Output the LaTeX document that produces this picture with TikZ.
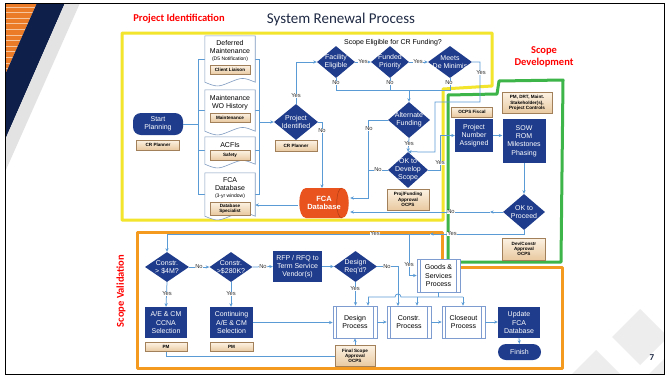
\documentclass[tikz,border=0pt]{standalone}
\usepackage{fontspec}
\setmainfont{Liberation Sans}
\newfontfamily\slidefont{Carlito}
\usetikzlibrary{shapes.geometric,arrows.meta,shadows}

\definecolor{navy}{HTML}{1F3C8C}
\definecolor{flow}{HTML}{5B9BD5}
\definecolor{tanA}{HTML}{FCF2E3}
\definecolor{tanB}{HTML}{E9C9A0}
\definecolor{tanE}{HTML}{A2805A}
\definecolor{tanD}{HTML}{8A6A48}
\definecolor{ylw}{HTML}{F2E52B}
\definecolor{grn}{HTML}{3DB549}
\definecolor{org}{HTML}{F39A1F}
\definecolor{fcared}{HTML}{E9531D}
\definecolor{procE}{HTML}{7E9CCF}
\definecolor{docE}{HTML}{7F9AC0}
\definecolor{deco}{HTML}{0E1F4A}
\definecolor{decoO}{HTML}{EB7B26}
\definecolor{decoG}{HTML}{EDEDED}
\definecolor{titlec}{HTML}{1F2A44}

% document symbol: straight top and sides, wavy bottom
\newcommand\docoutline[1]{%
  \draw[docline] (#1.south west) -- (#1.north west) -- (#1.north east) -- (#1.south east)
    .. controls +(-12,-5) and +(12,-5) .. (#1.south)
    .. controls +(-12,5) and +(12,5) .. (#1.south west) -- cycle;}

\begin{document}
\begin{tikzpicture}[x=1pt,y=-1pt,
  every node/.style={align=center, inner sep=1pt},
  txt/.style={font=\fontsize{7}{8.2}\selectfont},
  navybox/.style={rectangle, fill=navy, text=white, inner sep=0.5pt, font=\fontsize{7}{8.2}\selectfont},
  term/.style={navybox, rounded corners=8pt},
  dia/.style={diamond, fill=navy, inner sep=0pt},
  dtext/.style={text=white, font=\fontsize{7}{8.2}\selectfont, inner sep=0pt},
  tag/.style={rectangle, draw=tanE, line width=0.4pt, top color=tanA, bottom color=tanB,
    font=\bfseries\fontsize{4.6}{5.3}\selectfont, inner sep=0.3pt,
    drop shadow={shadow xshift=0.9pt, shadow yshift=-0.9pt, fill=tanD, opacity=1}},
  proc/.style={rectangle, draw=procE, fill=white, line width=0.7pt, font=\fontsize{7}{8.2}\selectfont,
    path picture={\draw[procE, line width=0.6pt]
      ([xshift=3.5pt]path picture bounding box.north west) -- ([xshift=3.5pt]path picture bounding box.south west)
      ([xshift=-3.5pt]path picture bounding box.north east) -- ([xshift=-3.5pt]path picture bounding box.south east);}},
  docbox/.style={rectangle, minimum width=50, inner sep=0pt},
  docline/.style={draw=docE, fill=white, line width=0.6pt},
  doctext/.style={font=\fontsize{7}{8.4}\selectfont, inner sep=0pt},
  wire/.style={draw=flow, line width=0.75pt},
  arr/.style={wire, -{Stealth[length=3.6pt, width=3.2pt]}},
  lab/.style={fill=white, inner sep=0.4pt, font=\fontsize{5.8}{6}\selectfont, text=black!80},
  zone/.style={line width=3pt, line join=round},
  head/.style={text=red, font=\slidefont\bfseries\fontsize{10.5}{12.5}\selectfont}
]
\useasboundingbox (0,0) rectangle (668,378);
\fill[white] (0,0) rectangle (668,378);

% ---- slide decoration, top left ----
\begin{scope}
  \clip (5,3) -- (37,3) -- (5,75) -- cycle;
  \fill[decoO] (5,3) rectangle (40,80);
  \foreach \yy in {7,12.6,...,76} \draw[white!55!decoO, line width=0.7pt] (5,\yy) -- (40,\yy);
\end{scope}
\fill[deco] (37,3) -- (65,3) -- (5,140) -- (5,75) -- cycle;
\fill[gray!22] (65,3) -- (80,3) -- (5,172) -- (5,140) -- cycle;

% ---- slide decoration, bottom right ----
\begin{scope}
  \clip (5,3) rectangle (664,374);
  \fill[decoG] (640,309) -- (668,337) -- (640,365) -- (612,337) -- cycle;
  \fill[decoG] (596,350) -- (622,376) -- (596,402) -- (570,376) -- cycle;
  \fill[decoG] (668,355) -- (690,377) -- (668,399) -- (646,377) -- cycle;
\end{scope}
\node[font=\slidefont\bfseries\fontsize{9}{10}\selectfont, text=titlec] (pg) at (652,358) {7};
\draw[black, line width=1pt] (5,3) rectangle (664,374);

% ---- headings ----
\node[font=\slidefont\fontsize{15}{17}\selectfont, text=titlec] (title) at (341,19) {System Renewal Process};
\node[head] (hpi) at (179,19) {Project Identification};
\node[head] (hsd) at (544,57) {Scope\\Development};
\node[head, rotate=90] (hsv) at (121,291) {Scope Validation};

% ---- zone outlines ----
\draw[zone, ylw] (122,33) -- (492,33) -- (492,86) -- (443,89) -- (443,220) -- (122,220) -- cycle;
\draw[zone, grn] (448,95) -- (497,94) -- (499,81) -- (563,80) -- (561,262) -- (448,262) -- cycle;
\draw[zone, org] (137,232) -- (442,232) -- (442,267) -- (562,267) -- (562,368) -- (137,368) -- cycle;

% ---- nodes: project identification ----
\node[term, minimum width=50, minimum height=22] (start) at (158,124) {Start\\Planning};
\node[tag, minimum width=43, minimum height=10] (crp1) at (158,145) {CR Planner};

\node[docbox, minimum height=46] (d1) at (230,59) {};
\node[docbox, minimum height=41] (d2) at (230,110.5) {};
\node[docbox, minimum height=27] (d3) at (230,150.5) {};
\node[docbox, minimum height=43] (d4) at (230,194.5) {};

\coordinate (busL) at (198,0);
\coordinate (busR) at (259,0);
\draw[wire] (busL |- d1.west) -- (busL |- d4.west);
\draw[wire] (busR |- d1.east) -- (busR |- d4.east);
\foreach \d in {d1,d2,d3,d4} {
  \draw[wire] (busL |- \d.west) -- (\d.west);
  \draw[wire] (\d.east) -- (busR |- \d.east);
}
\draw[wire] (start.east) -- (busL |- start.east);

\docoutline{d1}
\docoutline{d2}
\docoutline{d3}
\docoutline{d4}
\node[doctext] (d1t) at (230,51) {Deferred\\Maintenance\\[-1.5pt]{\fontsize{5}{6}\selectfont(D5 Notification)}};
\node[tag, minimum width=40, minimum height=9] (t1) at (230,70) {Client Liaison};
\node[doctext] (d2t) at (230,102.5) {Maintenance\\WO History};
\node[tag, minimum width=40, minimum height=9] (t2) at (230,117.5) {Maintenance};
\node[doctext] (d3t) at (230,145) {ACFIs};
\node[tag, minimum width=40, minimum height=10] (t3) at (230,155.5) {Safety};
\node[doctext] (d4t) at (230,188) {FCA\\Database\\[-1.5pt]{\fontsize{5}{6}\selectfont(3-yr window)}};
\node[tag, minimum width=40, minimum height=13] (t4) at (230,208.5) {Database\\Specialist};

\node[dia, minimum width=44, minimum height=36, label={[dtext]center:Project\\Identified}] (pid) at (296,122) {};
\node[tag, minimum width=42, minimum height=11] (crp2) at (296,146) {CR Planner};

\node[txt] (elig) at (393,43) {Scope Eligible for CR Funding?};
\node[dia, minimum width=38, minimum height=32, label={[dtext]center:Facility\\Eligible}] (fe) at (336,62) {};
\node[dia, minimum width=38, minimum height=32, label={[dtext]center:Funded\\Priority}] (fp) at (390,62) {};
\node[dia, minimum width=44, minimum height=32, label={[dtext]center:Meets\\De Minimis}] (mdm) at (450,62) {};
\node[dia, minimum width=42, minimum height=36, label={[dtext]center:Alternate\\Funding}] (af) at (409,120) {};
\node[dia, minimum width=40, minimum height=36, label={[dtext]center:OK to\\Develop\\Scope}] (okd) at (408,170) {};
\node[tag, minimum width=42, minimum height=21] (pfa) at (408,199.5) {Proj/Funding\\Approval\\OCPS};

% FCA database drum: body with rounded left end and a cap on the right
\fill[fcared] (306,188) -- (342,188) .. controls (351,188) and (351,218) .. (342,218)
  -- (306,218) .. controls (297,218) and (297,188) .. (306,188) -- cycle;
\draw[fcared!75!black, line width=0.5pt] (342,188) .. controls (335,188) and (335,218) .. (342,218);
\node[rectangle, minimum width=52, minimum height=30, inner sep=0pt, text=white,
  font=\bfseries\fontsize{7.5}{8.8}\selectfont] (fca) at (324,203) {FCA\\Database};

% ---- nodes: scope development ----
\node[navybox, minimum width=38, minimum height=33] (pna) at (474,135.5) {Project\\Number\\Assigned};
\node[tag, minimum width=41, minimum height=10] (fisc) at (472,112) {OCPS Fiscal};
\node[navybox, minimum width=43, minimum height=44] (sow) at (524,141) {SOW\\ROM\\Milestones\\Phasing};
\node[tag, minimum width=50, minimum height=21] (stake) at (527,103) {PM, DRT, Maint.\\Stakeholder(s),\\Project Controls};
\node[dia, minimum width=42, minimum height=36, label={[dtext]center:OK to\\Proceed}] (okp) at (524,212) {};
\node[tag, minimum width=43, minimum height=22] (dca) at (524,249) {Dev/Constr\\Approval\\OCPS};

% ---- nodes: scope validation ----
\node[dia, minimum width=44, minimum height=30, label={[dtext]center:Constr.\\> \$4M?}] (c4m) at (167,267) {};
\node[dia, minimum width=43, minimum height=30, label={[dtext]center:Constr.\\>\$280K?}] (c280) at (231,267) {};
\node[navybox, minimum width=49, minimum height=31] (rfp) at (297.5,266.5) {RFP / RFQ to\\Term Service\\Vendor(s)};
\node[dia, minimum width=43, minimum height=31, label={[dtext]center:Design\\Req'd?}] (drq) at (355.5,266.5) {};
\node[proc, minimum width=43, minimum height=33] (goods) at (438.5,275.5) {Goods \&\\Services\\Process};
\node[navybox, minimum width=42, minimum height=31] (ae) at (166,322.5) {A/E \& CM\\CCNA\\Selection};
\node[tag, minimum width=42, minimum height=9] (pm1) at (166,347) {PM};
\node[navybox, minimum width=43, minimum height=31] (cont) at (231.5,322.5) {Continuing\\A/E \& CM\\Selection};
\node[tag, minimum width=43, minimum height=9] (pm2) at (231.5,347) {PM};
\node[proc, minimum width=44, minimum height=32] (dproc) at (355,322) {Design\\Process};
\node[proc, minimum width=44, minimum height=32] (cproc) at (409,322) {Constr.\\Process};
\node[proc, minimum width=43, minimum height=32] (clo) at (463.5,322) {Closeout\\Process};
\node[navybox, minimum width=42, minimum height=31] (upd) at (519,322.5) {Update\\FCA\\Database};
\node[term, minimum width=43, minimum height=16] (fin) at (519.5,352) {Finish};
\node[tag, minimum width=40, minimum height=21] (fsa) at (355,356) {Final Scope\\Approval\\OCPS};

% ---- connectors: project identification ----
\draw[arr] (busR |- pid.west) -- (pid.west);
\draw[arr] (pid.north) |- (fe.west);
\draw[arr] (fe.east) -- (fp.west);
\draw[arr] (fp.east) -- (mdm.west);
\coordinate (nobus) at (0,90);
\draw[wire] (fe.south) -- (fe.south |- nobus) -- (mdm.south |- nobus) -- (mdm.south);
\draw[wire] (fp.south) -- (fp.south |- nobus);
\draw[arr] (af.north |- nobus) -- (af.north);
\draw[arr] (mdm.east) -- (480,62) -- (480,102) -- (435,102) -- (435,152) -- (okd.north);
\draw[arr] (af.south) -- (okd.north);
\draw[arr] (af.west) -- (368,120) -- (368,198) -- (368,198 -| fca.east);
\draw[wire] (okd.west) -- (368,170);
\draw[arr] (okd.east) -- (440,170) -- (440,135.5) -- (pna.west);
\draw[arr] (pid.east) -| (322,188);
\draw[arr] (fca.west |- 0,205) -- (d4.east |- 0,205);

% ---- connectors: scope development ----
\draw[arr] (pna.east) -- (pna.east -| sow.west);
\draw[arr] (sow.south) -- (okp.north);
\draw[arr] (okp.west) -- (490,212);
\draw[arr] (490,212) -- (okp.west -| fca.east);
\draw[arr] (okp.south) |- (430,234);
\draw[arr] (430,234) -| (c4m.north);
\draw[arr] (409,234) |- (goods.west);

% ---- connectors: scope validation ----
\draw[arr] (c4m.east) -- (c280.west);
\draw[arr] (c280.east) -- (rfp.west);
\draw[arr] (rfp.east) -- (drq.west);
\draw[arr] (drq.east) -| (398,306);
\draw[arr] (drq.south) -- (drq.south |- dproc.north);
\draw[wire] (goods.south) -- (goods.south |- 0,297);
% distribution line, hopping over the Design Req'd "No" line
\draw[wire] (368,297) -- (395,297) .. controls (395,293) and (401,293) .. (401,297) -- (463,297);
\draw[arr] (368,297) -- (368,0 |- dproc.north);
\draw[arr] (417,297) -- (417,0 |- cproc.north);
\draw[arr] (463,297) -- (463,0 |- clo.north);
\draw[arr] (c4m.south) -- (ae.north);
\draw[arr] (c280.south) -- (c280.south |- cont.north);
\draw[arr] (cont.east) -- (cont.east -| dproc.west);
\draw[arr] (dproc.east) -- (cproc.west);
\draw[arr] (cproc.east) -- (clo.west);
\draw[arr] (clo.east) -- (upd.west |- clo.east);
\draw[arr] (upd.south) -- (fin.north);
\draw[wire] (pm1.south) |- (fsa.west);
\draw[arr] (fsa.north) -- (dproc.south);

% ---- branch labels ----
\node[lab] (l1) at (296,96) {Yes};
\node[lab] (l2) at (363,62) {Yes};
\node[lab] (l3) at (418,62) {Yes};
\node[lab] (l4) at (336,83) {No};
\node[lab] (l5) at (390,83) {No};
\node[lab] (l6) at (449,83) {No};
\node[lab] (l7) at (481,73) {Yes};
\node[lab] (l8) at (409,144) {Yes};
\node[lab] (l9) at (369,129) {No};
\node[lab] (l10) at (378,170) {No};
\node[lab] (l11) at (440,163) {Yes};
\node[lab] (l12) at (322,131) {No};
\node[lab] (l13) at (451,212) {No};
\node[lab] (l14) at (452,234) {Yes};
\node[lab] (l15) at (375,234) {Yes};
\node[lab] (l16) at (409,265) {Yes};
\node[lab] (l17) at (199,267) {No};
\node[lab] (l18) at (263,267) {No};
\node[lab] (l19) at (387,267) {No};
\node[lab] (l20) at (355,289) {Yes};
\node[lab] (l21) at (167,294) {Yes};
\node[lab] (l22) at (231,294) {Yes};
\end{tikzpicture}
\end{document}
